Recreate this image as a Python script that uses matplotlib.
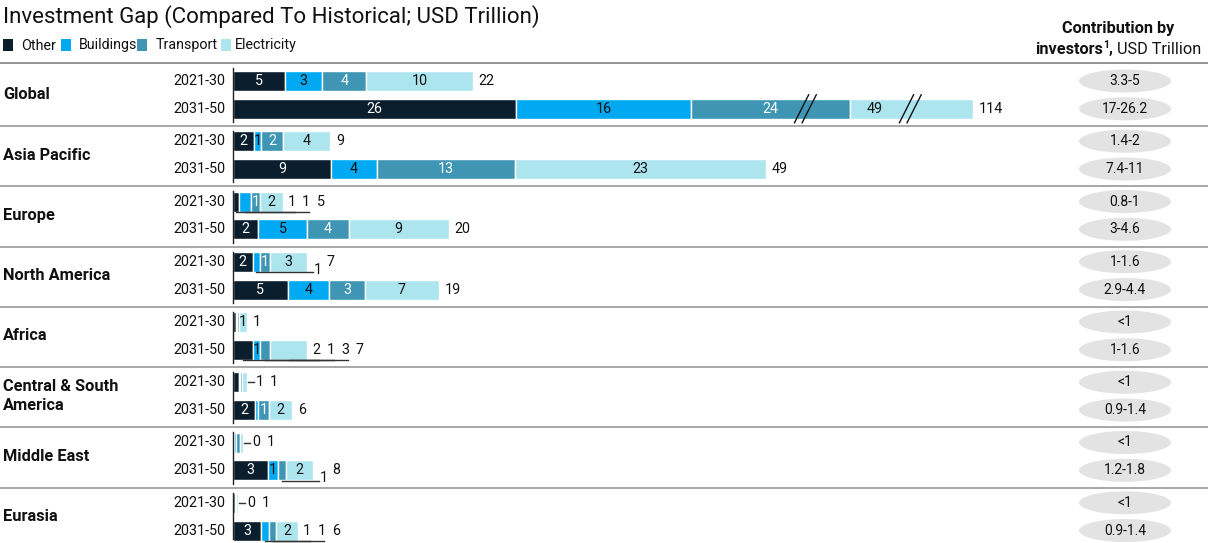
import matplotlib
matplotlib.use("Agg")
import matplotlib.pyplot as plt
from matplotlib.patches import Rectangle, Ellipse

plt.rcParams['font.family'] = ['Roboto', 'DejaVu Sans']

# ---------------- data ----------------
regions = ["Global", "Asia Pacific", "Europe", "North America", "Africa",
           "Central & South\nAmerica", "Middle East", "Eurasia"]
periods = ["2021-30", "2031-50"]
series = ["Other", "Buildings", "Transport", "Electricity"]

# estimated segment sizes (USD trillion), one entry per row (region x period)
other_vals = [4.8, 26.0, 1.9, 9.0, 0.55, 2.3, 1.8, 5.0, 0.25, 1.8, 0.55, 2.0, 0.12, 3.2, 0.2, 2.6]
buildings_vals = [3.4, 16.0, 0.7, 4.2, 1.1, 4.5, 0.7, 3.8, 0.15, 0.7, 0.1, 0.3, 0.2, 0.9, 0.05, 0.7]
transport_vals = [4.0, 24.0, 2.0, 12.7, 0.8, 3.8, 0.9, 3.3, 0.15, 0.9, 0.2, 1.0, 0.3, 0.75, 0.05, 0.65]
electricity_vals = [9.8, 49.0, 4.3, 23.0, 2.1, 9.2, 3.4, 6.8, 0.7, 3.4, 0.4, 2.1, 0.3, 2.5, 0.2, 2.0]

# printed labels
other_labels = ["5", "26", "2", "9", "1", "2", "2", "5", "", "2", "1", "2", "", "3", "", "3"]
buildings_labels = ["3", "16", "1", "4", "1", "5", "1", "4", "", "1", "", "", "0", "1", "0", "1"]
transport_labels = ["4", "24", "2", "13", "1", "4", "1", "3", "", "1", "", "1", "", "1", "", "1"]
electricity_labels = ["10", "49", "4", "23", "2", "9", "3", "7", "1", "3", "", "2", "", "2", "", "2"]
totals = ["22", "114", "9", "49", "5", "20", "7", "19", "1", "7", "1", "6", "1", "8", "1", "6"]

contribution = ["3.3-5", "17-26.2", "1.4-2", "7.4-11", "0.8-1", "3-4.6", "1-1.6", "2.9-4.4",
                "<1", "1-1.6", "<1", "0.9-1.4", "<1", "1.2-1.8", "<1", "0.9-1.4"]

# labels drawn outside the bar with leader lines: row -> [(series index, style)]
outside = {4: [(0, "under"), (1, "under")],
           6: [(1, "below")],
           9: [(0, "under"), (2, "under"), (3, "under")],
           10: [(0, "dash")],
           12: [(1, "dash")],
           13: [(2, "below")],
           14: [(1, "dash")],
           15: [(1, "under"), (2, "under")]}

# axis break on Global 2031-50:
# (row, series) -> (drawn length, break mark position fraction, label position fraction)
broken = {(1, 2): (14.6, 0.72, 0.5), (1, 3): (11.3, 0.49, 0.2)}

colors = ["#0a1e2e", "#00a9f1", "#3f96b4", "#ade5ef"]
text_colors = ["white", "#111111", "white", "#111111"]

# ---------------- layout ----------------
W, H = 1208, 543
S = 10.9          # px per unit
X0 = 233          # bar origin px

fig = plt.figure(figsize=(W / 100, H / 100), dpi=100)
ax = fig.add_axes([0, 0, 1, 1])
ax.set_xlim(-X0 / S, (W - X0) / S)
ax.set_ylim(H, 0)
ax.axis("off")


def X(px):
    return (px - X0) / S


FS = 10.3
vals = [other_vals, buildings_vals, transport_vals, electricity_vals]
labs = [other_labels, buildings_labels, transport_labels, electricity_labels]

# title and legend
ax.text(X(3), 17, "Investment Gap (Compared To Historical; USD Trillion)", fontsize=16.0,
        va="center", ha="left", color="#111111")
leg_sq = [3, 61, 137, 221]
leg_tx = [21, 79, 156, 235]
for i, name in enumerate(series):
    ax.add_patch(Rectangle((X(leg_sq[i]), 38.5), 10 / S, 12.5, color=colors[i], lw=0))
    ax.text(X(leg_tx[i]), 45.5, name, fontsize=10.3, va="center", ha="left",
            color="#111111")

# right header
HFS = 11.7
renderer = fig.canvas.get_renderer()
ax.text(X(1118), 28, "Contribution by", fontsize=HFS, fontweight="bold", ha="center",
        va="center", color="#111111")
parts = [("investors", "bold", HFS, 0), ("1", "bold", 7.5, -4), (", ", "bold", HFS, 0),
         ("USD Trillion", "normal", HFS, 0)]
tmp = []
for s, wgt, fs, dy in parts:
    t = ax.text(0, 0, s, fontsize=fs, fontweight=wgt)
    tmp.append(t.get_window_extent(renderer).width)
    t.remove()
cx = 1118 - sum(tmp) / 2
for (s, wgt, fs, dy), w in zip(parts, tmp):
    ax.text(X(cx), 49 + dy, s, fontsize=fs, fontweight=wgt, ha="left", va="center",
            color="#111111")
    cx += w

# separators
REG = 60.25
ax.plot([X(0), X(W)], [63, 63], color="#8a8a8a", lw=1.3, solid_capstyle="butt")
for r in range(1, len(regions)):
    yy = 126 + (r - 1) * REG
    ax.plot([X(0), X(W)], [yy, yy], color="#a0a0a0", lw=1.3, solid_capstyle="butt")

BH = 20
for r, reg in enumerate(regions):
    top = 63 if r == 0 else 126 + (r - 1) * REG
    bot = 126 + r * REG if r < len(regions) - 1 else H
    ax.plot([0, 0], [top + 5, bot - 4], color="#222222", lw=1)
    yc = 81 + r * REG + 13.9
    ax.text(X(3), yc, reg, fontsize=11.8, fontweight="bold", ha="left", va="center",
            color="#111111", linespacing=1.35)
    for p, per in enumerate(periods):
        row = 2 * r + p
        y = 81 + r * REG + p * 27.8
        ax.text(X(225), y, per, fontsize=10.4, ha="right", va="center", color="#111111")
        left = 0.0
        mids = []
        outs = dict(outside.get(row, []))
        for s in range(4):
            v = vals[s][row]
            drawn, frac, lfrac = broken.get((row, s), (v, None, 0.5))
            ax.barh(y, drawn, left=left, height=BH, color=colors[s], edgecolor="white",
                    linewidth=1.0)
            mids.append(left + drawn / 2)
            lab = labs[s][row]
            if lab and s not in outs:
                ax.text(left + drawn * lfrac, y, lab, fontsize=FS, ha="center", va="center",
                        color=text_colors[s])
            if frac is not None:
                bx = left + drawn * frac
                for dx in (-0.35, 0.35):
                    ax.plot([bx + dx - 0.65, bx + dx + 0.65], [y + BH / 2 + 4, y - BH / 2 - 4],
                            color="#111111", lw=1)
            left += drawn
        end_px = X0 + left * S
        cur = end_px + 5
        for s, style in outside.get(row, []):
            lab = labs[s][row]
            if style == "dash":
                ax.plot([X(end_px + 1), X(end_px + 7)], [y, y], color="#333333", lw=1)
                cur = end_px + 9
                ax.text(X(cur), y, lab, fontsize=FS, ha="left", va="center", color="#111111")
            elif style == "below":
                ax.plot([mids[s], X(cur + 1)], [y + BH / 2 + 0.5] * 2, color="#333333", lw=1)
                ax.text(X(cur + 2), y + 8, lab, fontsize=FS, ha="left", va="center",
                        color="#111111")
            else:
                ax.plot([mids[s], X(cur + 7)], [y + BH / 2 + 0.5] * 2, color="#333333", lw=1)
                ax.text(X(cur), y, lab, fontsize=FS, ha="left", va="center", color="#111111")
            cur += 14.5
        if not outside.get(row):
            cur = end_px + 6
        ax.text(X(cur), y, totals[row], fontsize=FS, ha="left", va="center", color="#111111")
        # contribution ellipse
        ax.add_patch(Ellipse((X(1125), y), 92 / S, 23, color="#e3e3e3", lw=0))
        ax.text(X(1125), y, contribution[row], fontsize=10, ha="center", va="center",
                color="#111111")

fig.savefig("out.png", dpi=100)
